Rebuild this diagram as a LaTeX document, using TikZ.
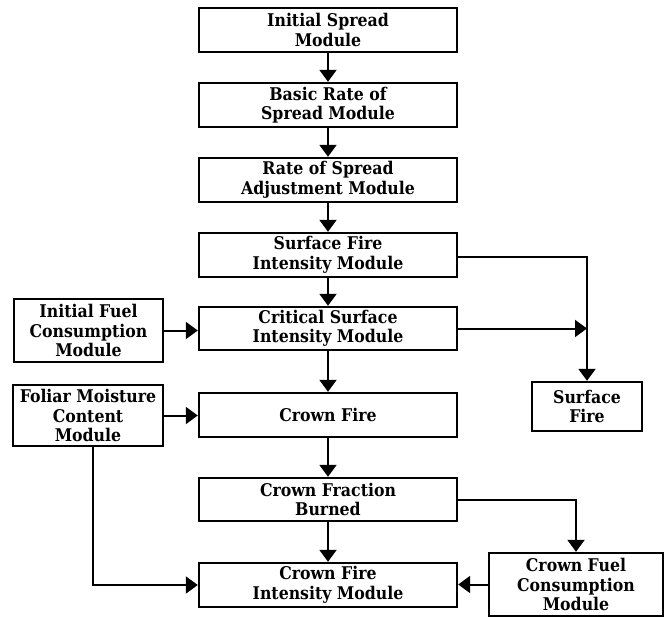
\documentclass[tikz,border=0pt]{standalone}
\usepackage{fontspec}
\setmainfont{DejaVu Serif Condensed}
\usetikzlibrary{arrows.meta}
\begin{document}
\begin{tikzpicture}[x=1pt,y=-1pt,
  box/.style={draw, line width=2.4pt, align=center, inner sep=0pt,
    font=\fontsize{17.5}{19.5}\selectfont\bfseries},
  cbox/.style={box, minimum width=258pt, minimum height=44pt},
  link/.style={line width=2pt, -{Triangle[length=12pt,width=17pt]}}]
\useasboundingbox (0,0) rectangle (671,617);
\node[cbox] (b1) at (328,30) {Initial Spread\\Module};
\node[cbox] (b2) at (328,105) {Basic Rate of\\Spread Module};
\node[cbox] (b3) at (328,180) {Rate of Spread\\Adjustment Module};
\node[cbox] (b4) at (328,255) {Surface Fire\\Intensity Module};
\node[cbox, minimum height=43pt] (b5) at (328,328.5) {Critical Surface\\Intensity Module};
\node[cbox] (b6) at (328,415) {Crown Fire};
\node[cbox, minimum height=43pt] (b7) at (328,499.5) {Crown Fraction\\Burned};
\node[cbox] (b8) at (328,585) {Crown Fire\\Intensity Module};
\node[box, minimum width=149pt, minimum height=63pt] (l1) at (88.5,330.5) {Initial Fuel\\Consumption\\Module};
\node[box, minimum width=150pt, minimum height=61pt] (l2) at (88,415.5) {Foliar Moisture\\Content\\Module};
\node[box, minimum width=110pt, minimum height=49pt] (sf) at (587,406.5) {Surface\\Fire};
\node[box, minimum width=174pt, minimum height=63pt] (cf) at (576,584.5) {Crown Fuel\\Consumption\\Module};
\draw[link] (b1) -- (b2);
\draw[link] (b2) -- (b3);
\draw[link] (b3) -- (b4);
\draw[link] (b4) -- (b5);
\draw[link] (b5) -- (b6);
\draw[link] (b6) -- (b7);
\draw[link] (b7) -- (b8);
\draw[link] (l1.east) -- (l1.east -| b5.west);
\draw[link] (l2.east) -- (l2.east -| b6.west);
\draw[link] ([xshift=5pt]l2.south) |- (b8.west);
\draw[link] ([yshift=-2pt]b4.east) -| (sf.north);
\draw[link] (b5.east) -- (b5.east -| sf.north);
\draw[link] (b7.east) -| (cf.north);
\draw[link] (cf.west) -- (cf.west -| b8.east);
\end{tikzpicture}
\end{document}
